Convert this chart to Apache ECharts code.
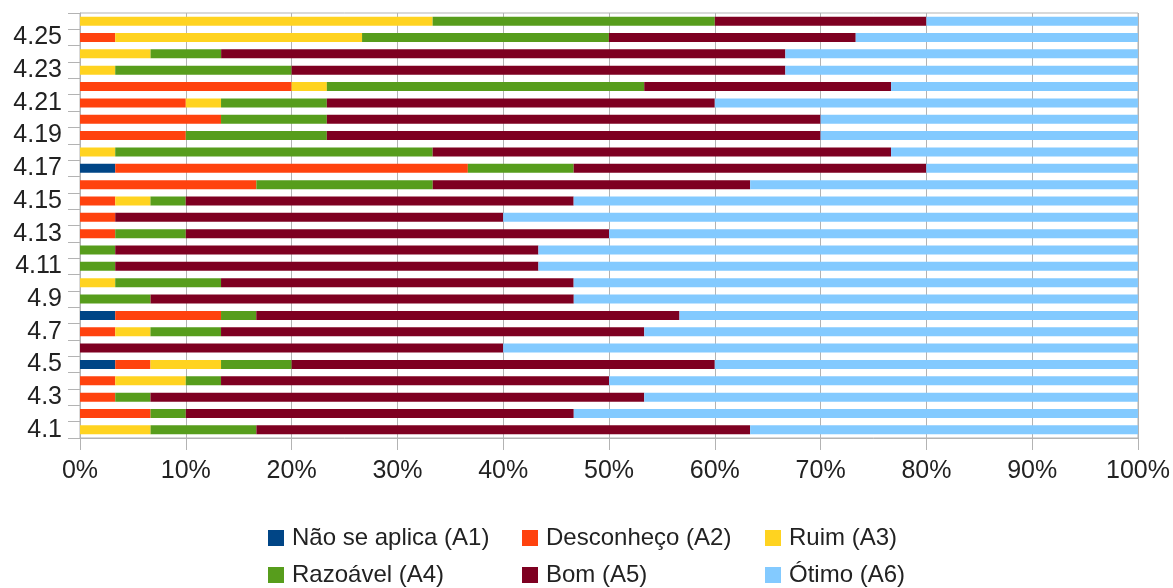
<!DOCTYPE html>
<html>
<head>
<meta charset="utf-8">
<script src="https://cdn.jsdelivr.net/npm/echarts@6/dist/echarts.min.js"></script>
<style>
  html, body { margin: 0; padding: 0; background: #fff; }
  #main { width: 1173px; height: 588px; }
</style>
</head>
<body>
<div id="main"></div>
<script>
// questions, bottom to top
var categories = ['4.1','4.2','4.3','4.4','4.5','4.6','4.7','4.8','4.9','4.10','4.11','4.12','4.13',
                  '4.14','4.15','4.16','4.17','4.18','4.19','4.20','4.21','4.22','4.23','4.24','4.25','4.26'];

// share of answers per question, in %
var naoAplica   = [0, 0, 0, 0, 3.33, 0, 0, 3.33, 0, 0, 0, 0, 0,
                   0, 0, 0, 3.33, 0, 0, 0, 0, 0, 0, 0, 0, 0];
var desconheco  = [0, 6.67, 3.33, 3.33, 3.33, 0, 3.33, 10, 0, 0, 0, 0, 3.33,
                   3.33, 3.33, 16.67, 33.33, 0, 10, 13.33, 10, 20, 0, 0, 3.33, 0];
var ruim        = [6.67, 0, 0, 6.67, 6.67, 0, 3.33, 0, 0, 3.33, 0, 0, 0,
                   0, 3.33, 0, 0, 3.33, 0, 0, 3.33, 3.33, 3.33, 6.67, 23.33, 33.33];
var razoavel    = [10, 3.33, 3.33, 3.33, 6.67, 0, 6.67, 3.33, 6.67, 10, 3.33, 3.33, 6.67,
                   0, 3.33, 16.67, 10, 30, 13.33, 10, 10, 30, 16.67, 6.67, 23.33, 26.67];
var bom         = [46.67, 36.67, 46.67, 36.67, 40, 40, 40, 40, 40, 33.33, 40, 40, 40,
                   36.67, 36.67, 30, 33.33, 43.33, 46.67, 46.67, 36.67, 23.33, 46.67, 53.33, 23.33, 20];
var otimo       = [36.66, 53.33, 46.67, 50, 40, 60, 46.67, 43.34, 53.33, 53.34, 56.67, 56.67, 50,
                   60, 53.34, 36.66, 20, 23.34, 30, 30, 40, 23.34, 33.33, 33.33, 26.68, 20];

var seriesNames = ['Não se aplica (A1)','Desconheço (A2)','Ruim (A3)','Razoável (A4)','Bom (A5)','Ótimo (A6)'];
var seriesData  = [naoAplica, desconheco, ruim, razoavel, bom, otimo];
var colors      = ['#004586','#ff420e','#ffd320','#579d1c','#7e0021','#83caff'];

var font = 'Liberation Sans';
var legendPos = [[268, 526], [522, 526], [765, 526], [268, 563], [522, 563], [765, 563]];

// one legend per entry so the columns line up like the original
var legends = seriesNames.map(function (n, i) {
    return {
        data: [n],
        left: legendPos[i][0],
        top: legendPos[i][1],
        itemWidth: 16,
        itemHeight: 16,
        itemGap: 0,
        padding: 0,
        icon: 'rect',
        textStyle: { fontFamily: font, fontSize: 24, color: '#222', padding: [0, 0, 0, 3] }
    };
});

var option = {
    animation: false,
    color: colors,
    grid: {
        left: 80, right: 35, top: 13, bottom: 150,
        show: true, borderColor: '#b3b3b3', borderWidth: 1
    },
    legend: legends,
    xAxis: {
        type: 'value',
        min: 0, max: 100, interval: 10,
        axisLine: { show: true, lineStyle: { color: '#b3b3b3', width: 1 } },
        axisTick: { show: true, length: 12, lineStyle: { color: '#b3b3b3' } },
        splitLine: { show: true, lineStyle: { color: '#b3b3b3', width: 1 } },
        axisLabel: { formatter: '{value}%', fontFamily: font, fontSize: 25, color: '#222', margin: 21 }
    },
    yAxis: {
        type: 'category',
        data: categories,
        axisLine: { show: true, lineStyle: { color: '#b3b3b3', width: 1 } },
        axisTick: { show: true, length: 12, interval: 0, lineStyle: { color: '#b3b3b3' } },
        axisLabel: { interval: 1, fontFamily: font, fontSize: 25, color: '#222', margin: 18 }
    },
    series: seriesNames.map(function (n, i) {
        return {
            name: n,
            type: 'bar',
            stack: 'total',
            barWidth: 9,
            data: seriesData[i]
        };
    })
};

var myChart = echarts.init(document.getElementById('main'));
myChart.setOption(option);
</script>
</body>
</html>
